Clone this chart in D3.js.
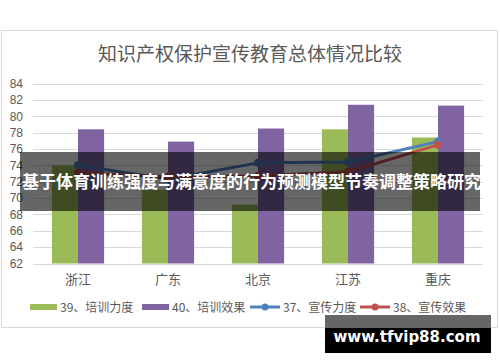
<!DOCTYPE html>
<html lang="zh-CN">
<head>
<meta charset="UTF-8">
<title>知识产权保护宣传教育总体情况比较</title>
<script src="https://cdn.jsdelivr.net/npm/d3@7"></script>
<style>
    body { margin: 0; background: #fff; }
    svg { display: block; font-family: "Noto Sans CJK SC", "Microsoft YaHei", sans-serif; }
    .grid-line { stroke: #d9d9d9; stroke-width: 1; shape-rendering: crispEdges; }
    .tick text { fill: #595959; font-size: 12px; }
</style>
</head>
<body>
<div id="root"></div>
<script>
    // 数据
    const categories = ["浙江", "广东", "北京", "江苏", "重庆"]
    const trainForce = [74.0, 71.0, 69.2, 78.4, 77.4]     // 39、培训力度
    const trainEffect = [78.4, 76.9, 78.5, 81.4, 81.3]    // 40、培训效果
    const promoForce = [74.0, 72.3, 74.3, 74.4, 76.9]     // 37、宣传力度
    const promoEffect = [73.1, 72.6, 72.7, 73.2, 76.5]    // 38、宣传效果
    const yTicks = [62, 64, 66, 68, 70, 72, 74, 76, 78, 80, 82, 84]

    const seriesNames = ["39、培训力度", "40、培训效果", "37、宣传力度", "38、宣传效果"]
    const colors = ["#9bbb59", "#8064a2", "#4f81bd", "#c0504d"]

    let width = 500, height = 362
    let plotLeft = 33, plotRight = 483, plotTop = 83.5, plotBottom = 263.5

    let svg = d3.select("#root").append("svg").attr("width", width).attr("height", height)

    // 外框
    svg.append("rect").attr("x", 1.5).attr("y", 30.5).attr("width", 496).attr("height", 297)
        .attr("fill", "#fff").attr("stroke", "#d9d9d9")

    svg.append("text").attr("x", 250).attr("y", 61).attr("text-anchor", "middle")
        .attr("fill", "#595959").style("font-size", "19px").text("知识产权保护宣传教育总体情况比较")

    let y = d3.scaleLinear().domain([62, 84]).range([plotBottom, plotTop])
    let x0 = d3.scaleBand().domain(categories).range([plotLeft, plotRight]).paddingInner(0.42).paddingOuter(0.21)
    let x1 = d3.scaleBand().domain([0, 1]).range([0, x0.bandwidth()])

    // y 轴 + 网格线
    let yAxis = svg.append("g").attr("class", "y-axis").attr("transform", "translate(" + plotLeft + ",0)")
        .call(d3.axisLeft(y).tickValues(yTicks).tickSize(0).tickPadding(10))
    yAxis.select(".domain").remove()
    yAxis.selectAll("g.tick").append("line").classed("grid-line", true)
        .attr("x1", 0).attr("x2", plotRight - plotLeft).attr("y1", 0).attr("y2", 0)

    // x 轴
    let xAxis = svg.append("g").attr("class", "x-axis").attr("transform", "translate(0," + plotBottom + ")")
        .call(d3.axisBottom(x0).tickSize(0).tickPadding(11))
    xAxis.select(".domain").remove()
    xAxis.selectAll("text").style("font-size", "13px")

    // 柱子
    let bars = [trainForce, trainEffect]
    bars.forEach(function (vals, s) {
        svg.append("g").selectAll("rect").data(vals).enter().append("rect")
            .attr("x", (d, i) => x0(categories[i]) + x1(s))
            .attr("y", d => y(d))
            .attr("width", x1.bandwidth())
            .attr("height", d => plotBottom - y(d))
            .attr("fill", colors[s])
    })

    // 折线
    let line = d3.line().x((d, i) => x0(categories[i]) + x0.bandwidth() / 2).y(d => y(d))
    let lines = [promoForce, promoEffect]
    lines.forEach(function (vals, s) {
        let c = colors[s + 2]
        svg.append("path").datum(vals).attr("d", line).attr("fill", "none")
            .attr("stroke", c).attr("stroke-width", 3).attr("stroke-linejoin", "round")
        svg.append("g").selectAll("circle").data(vals).enter().append("circle")
            .attr("cx", (d, i) => x0(categories[i]) + x0.bandwidth() / 2)
            .attr("cy", d => y(d)).attr("r", 4).attr("fill", c)
    })

    // 图例
    let legendX = [30, 142, 250, 360]
    let legend = svg.append("g").attr("class", "legend")
    seriesNames.forEach(function (name, i) {
        let g = legend.append("g").attr("transform", "translate(" + legendX[i] + ",307)")
        if (i < 2) {
            g.append("rect").attr("x", 0).attr("y", -3).attr("width", 27).attr("height", 6).attr("fill", colors[i])
        } else {
            g.append("line").attr("x1", 0).attr("x2", 30).attr("y1", 0).attr("y2", 0)
                .attr("stroke", colors[i]).attr("stroke-width", 3)
            g.append("circle").attr("cx", 15).attr("cy", 0).attr("r", 3.5).attr("fill", colors[i])
        }
        g.append("text").attr("x", i < 2 ? 30 : 33).attr("y", 4.5).attr("fill", "#595959")
            .style("font-size", "12px").text(name)
    })

    // 横幅
    svg.append("rect").attr("x", 20).attr("y", 152).attr("width", 460).attr("height", 59)
        .attr("fill", "rgba(0,0,0,0.6)")
    svg.append("text").attr("x", 22).attr("y", 188).attr("fill", "#fff")
        .style("font-size", "17px").style("font-weight", "bold")
        .text("基于体育训练强度与满意度的行为预测模型节奏调整策略研究")

    // 水印
    svg.append("rect").attr("x", 325).attr("y", 315).attr("width", 166).attr("height", 13).attr("fill", "#666")
    svg.append("rect").attr("x", 325).attr("y", 328).attr("width", 166).attr("height", 25).attr("fill", "#000")
    svg.append("text").attr("x", 407).attr("y", 342).attr("text-anchor", "middle").attr("fill", "#fff")
        .style("font-family", "'DejaVu Sans', sans-serif").style("font-size", "15px").style("font-weight", "bold")
        .text("www.tfvip88.com")
</script>
</body>
</html>
